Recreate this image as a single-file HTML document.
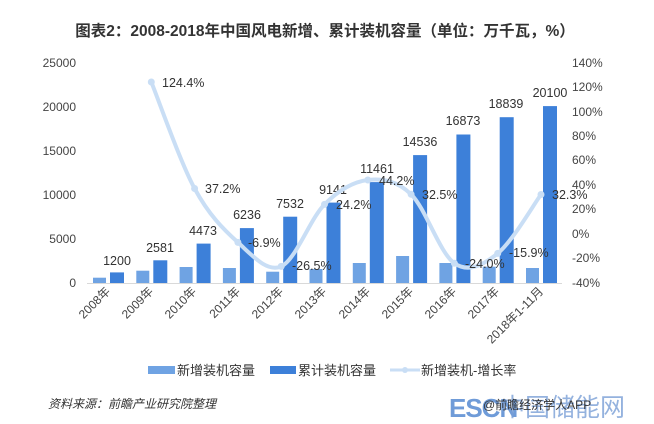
<!DOCTYPE html>
<html><head><meta charset="utf-8"><style>
html,body{margin:0;padding:0;background:#fff;}
svg{display:block;font-family:"Liberation Sans","Noto Sans CJK SC",sans-serif;}
</style></head><body>
<svg width="654" height="424" viewBox="0 0 654 424" xmlns="http://www.w3.org/2000/svg">
<rect width="654" height="424" fill="#fff"/>
<text x="325" y="36" text-anchor="middle" font-size="15.5" font-weight="bold" fill="#333">图表2：2008-2018年中国风电新增、累计装机容量（单位：万千瓦，%）</text>
<g font-size="12" fill="#444" text-anchor="end">
<text x="76" y="67">25000</text><text x="76" y="111">20000</text><text x="76" y="155">15000</text>
<text x="76" y="199">10000</text><text x="76" y="243">5000</text><text x="76" y="287">0</text>
</g>
<g font-size="12" fill="#444">
<text x="572" y="67">140%</text><text x="572" y="91">120%</text><text x="572" y="116">100%</text>
<text x="572" y="140">80%</text><text x="572" y="164">60%</text><text x="572" y="189">40%</text>
<text x="572" y="213">20%</text><text x="572" y="238">0%</text><text x="572" y="262">-20%</text>
<text x="572" y="287">-40%</text>
</g>
<line x1="87" y1="283.5" x2="562" y2="283.5" stroke="#d9d9d9" stroke-width="1"/>
<g fill="#6fa3e3">
<rect x="93" y="277.7" width="13" height="5.3"/>
<rect x="136.3" y="270.7" width="13" height="12.3"/>
<rect x="179.6" y="267" width="13" height="16"/>
<rect x="222.9" y="268" width="13" height="15"/>
<rect x="266.2" y="271.7" width="13" height="11.3"/>
<rect x="309.5" y="269" width="13" height="14"/>
<rect x="352.8" y="263" width="13" height="20"/>
<rect x="396.1" y="256" width="13" height="27"/>
<rect x="439.4" y="263" width="13" height="20"/>
<rect x="482.7" y="266.7" width="13" height="16.3"/>
<rect x="526" y="268" width="13" height="15"/>
</g>
<g fill="#3d80d9">
<rect x="110" y="272.4" width="14" height="10.6"/>
<rect x="153.3" y="260.3" width="14" height="22.7"/>
<rect x="196.6" y="243.6" width="14" height="39.4"/>
<rect x="239.9" y="228.1" width="14" height="54.9"/>
<rect x="283.2" y="216.7" width="14" height="66.3"/>
<rect x="326.5" y="202.6" width="14" height="80.4"/>
<rect x="369.8" y="182.1" width="14" height="100.9"/>
<rect x="413.1" y="155.1" width="14" height="127.9"/>
<rect x="456.4" y="134.5" width="14" height="148.5"/>
<rect x="499.7" y="117.2" width="14" height="165.8"/>
<rect x="543" y="106.1" width="14" height="176.9"/>
</g>
<g font-size="12.5" fill="#333" text-anchor="middle">
<text x="117" y="265">1200</text><text x="160" y="252">2581</text><text x="203" y="235">4473</text>
<text x="247" y="219">6236</text><text x="290" y="208">7532</text><text x="333" y="194">9141</text>
<text x="377" y="173">11461</text><text x="420" y="146">14536</text><text x="463" y="125">16873</text>
<text x="506" y="108">18839</text><text x="550" y="97">20100</text>
</g>
<path d="M151.3,82 C158.5,99.75 180.2,161.8 194.6,188.5 C209,215.2 223.5,229.4 237.9,242.4 C252.3,255.4 266.8,272.7 281.2,266.4 C295.6,260.1 310.1,218.8 324.5,204.4 C338.9,190 353.4,181.7 367.8,180 C382.2,178.3 396.7,180.4 411.1,194.3 C425.5,208.2 440,253.5 454.4,263.3 C468.8,273.2 483.3,264.9 497.7,253.4 C512.1,241.9 533.8,204.3 541,194.5" fill="none" stroke="#c9def5" stroke-width="4" stroke-linecap="round"/>
<g fill="#c9def5">
<circle cx="151.3" cy="82" r="3.5"/><circle cx="194.6" cy="188.5" r="3.5"/><circle cx="237.9" cy="242.4" r="3.5"/>
<circle cx="281.2" cy="266.4" r="3.5"/><circle cx="324.5" cy="204.4" r="3.5"/><circle cx="367.8" cy="180" r="3.5"/>
<circle cx="411.1" cy="194.3" r="3.5"/><circle cx="454.4" cy="263.3" r="3.5"/><circle cx="497.7" cy="253.4" r="3.5"/>
<circle cx="541" cy="194.5" r="3.5"/>
</g>
<g font-size="12.5" fill="#333">
<text x="162" y="87">124.4%</text><text x="205" y="193">37.2%</text><text x="248" y="247">-6.9%</text>
<text x="292" y="270">-26.5%</text><text x="336" y="209">24.2%</text><text x="379" y="185">44.2%</text>
<text x="422" y="199">32.5%</text><text x="465" y="268">-24.0%</text><text x="509" y="257">-15.9%</text>
<text x="552" y="199">32.3%</text>
</g>
<g font-size="12" fill="#444" text-anchor="end">
<text transform="translate(111,292) rotate(-45)">2008年</text>
<text transform="translate(154,292) rotate(-45)">2009年</text>
<text transform="translate(197,292) rotate(-45)">2010年</text>
<text transform="translate(241,292) rotate(-45)">2011年</text>
<text transform="translate(284,292) rotate(-45)">2012年</text>
<text transform="translate(327,292) rotate(-45)">2013年</text>
<text transform="translate(371,292) rotate(-45)">2014年</text>
<text transform="translate(414,292) rotate(-45)">2015年</text>
<text transform="translate(457,292) rotate(-45)">2016年</text>
<text transform="translate(500,292) rotate(-45)">2017年</text>
<text transform="translate(544,292) rotate(-45)">2018年1-11月</text>
</g>
<rect x="148" y="366" width="27" height="8" fill="#6fa3e3"/>
<text x="177" y="375" font-size="13" fill="#333">新增装机容量</text>
<rect x="270" y="366" width="26" height="8" fill="#3d80d9"/>
<text x="298" y="375" font-size="13" fill="#333">累计装机容量</text>
<line x1="390" y1="370" x2="420" y2="370" stroke="#c9def5" stroke-width="3"/>
<circle cx="405" cy="370" r="3" fill="#c9def5"/>
<text x="421" y="375" font-size="13" fill="#333">新增装机-增长率</text>
<text x="48" y="408" font-size="12" font-style="italic" fill="#333">资料来源：前瞻产业研究院整理</text>
<text x="449" y="417" font-size="26" font-weight="bold" fill="#6f9bd8" letter-spacing="-1">ESCN</text>
<text x="500" y="416" font-size="25" fill="#7a9fd6" opacity="0.8">中国储能网</text>
<text x="483" y="409" font-size="12" fill="#333">@前瞻经济学人APP</text>
</svg>
</body></html>
